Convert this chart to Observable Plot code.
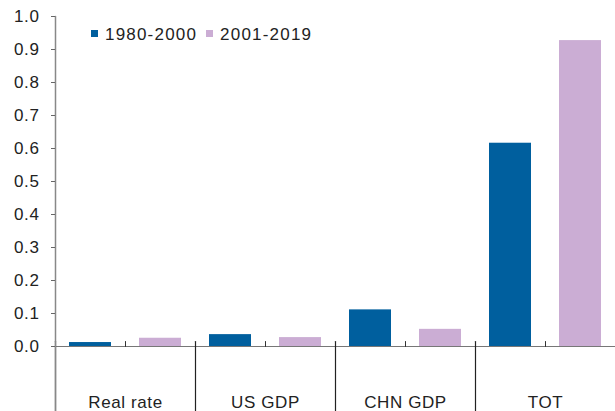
<!DOCTYPE html>
<html>
<head>
<meta charset="utf-8">
<script src="https://cdn.jsdelivr.net/npm/d3@7"></script>
<script src="https://cdn.jsdelivr.net/npm/@observablehq/plot@0.6"></script>
<style>
  html, body { margin: 0; padding: 0; background: #fff; }
  #wrap { position: relative; width: 615px; height: 411px; font-family: "Liberation Sans", Arial, sans-serif; }
  #legend { position: absolute; left: 91px; top: 25px; font-size: 17px; line-height: 20px; color: #222; letter-spacing: 1.2px; white-space: nowrap; }
  #legend .sw { display: inline-block; width: 7px; height: 7px; vertical-align: 3px; margin-right: 7px; }
  #legend .item { margin-right: 9px; }
  svg text { letter-spacing: 0.6px; }
</style>
</head>
<body>
<div id="wrap"></div>
<script>
const categories = ["Real rate", "US GDP", "CHN GDP", "TOT"];
const series = ["1980-2000", "2001-2019"];
const values1980 = [0.012, 0.036, 0.111, 0.616];
const values2001 = [0.025, 0.027, 0.052, 0.927];
const colors = ["#005f9e", "#cbadd4"];
const yTicks = [0, 0.1, 0.2, 0.3, 0.4, 0.5, 0.6, 0.7, 0.8, 0.9, 1.0];

const data = [];
categories.forEach((c, i) => {
  data.push({category: c, series: series[0], value: values1980[i]});
  data.push({category: c, series: series[1], value: values2001[i]});
});

const line = {draw(context, l) { context.moveTo(0, 0); context.lineTo(0, -l); }};

const chart = Plot.plot({
  width: 615,
  height: 411,
  marginLeft: 54,
  marginRight: 0,
  marginTop: 16,
  marginBottom: 65,
  style: {fontFamily: '"Liberation Sans", Arial, sans-serif', fontSize: "17px", color: "#222", background: "#fff"},
  fx: {domain: categories, padding: 0, label: null},
  x: {domain: series, paddingInner: 0.4, paddingOuter: 0.2, axis: null},
  y: {domain: [0, 1], label: null},
  color: {domain: series, range: colors},
  marks: [
    Plot.barY(data, {fx: "category", x: "series", y: "value", fill: "series"}),
    Plot.ruleY([0], {stroke: "#777", strokeWidth: 1}),
    Plot.vector([0], {frameAnchor: "bottom", length: 5, rotate: 0, anchor: "start", shape: line, stroke: "#333", strokeWidth: 1}),
    Plot.vector([0], {frameAnchor: "bottom-left", dy: -5, length: 71, rotate: 180, anchor: "start", shape: line, stroke: "#222", strokeWidth: 1.2}),
    Plot.vector([0], {frameAnchor: "top-left", facetAnchor: "left", length: 396, rotate: 180, anchor: "start", shape: line, stroke: "#888", strokeWidth: 1.5}),
    Plot.axisY(yTicks, {anchor: "left", tickSize: 4, tickPadding: 12, tickFormat: d3.format(".1f"), stroke: "#666", fill: "#222", fontSize: 17, label: null}),
    Plot.axisFx({anchor: "bottom", tickSize: 0, tickPadding: 49, fill: "#222", fontSize: 17, label: null})
  ]
});

const wrap = document.getElementById("wrap");
wrap.appendChild(chart);

const legend = document.createElement("div");
legend.id = "legend";
legend.innerHTML = series.map((s, i) =>
  `<span class="item"><span class="sw" style="background:${colors[i]}"></span>${s}</span>`).join("");
wrap.appendChild(legend);
</script>
</body>
</html>
